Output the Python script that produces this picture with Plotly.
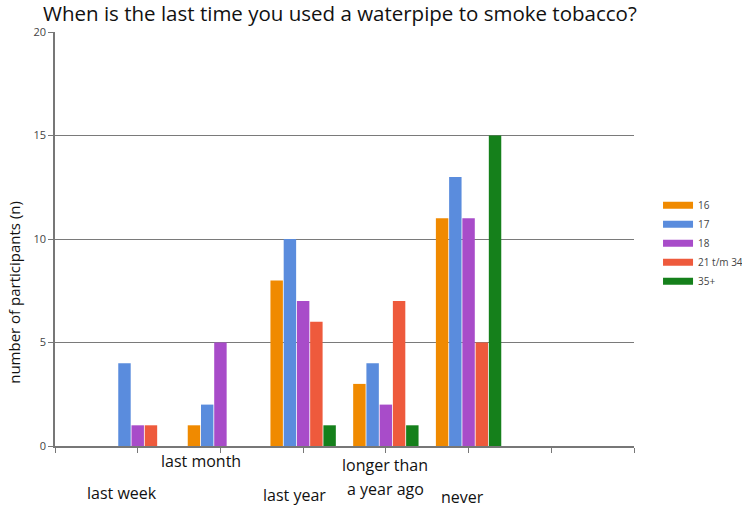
import plotly.graph_objects as go

categories = ["last week", "last month", "last year", "longer than<br>a year ago", "never"]
series_names = ["16", "17", "18", "21 t/m 34", "35+"]
values_16 = [0, 1, 8, 3, 11]
values_17 = [4, 2, 10, 4, 13]
values_18 = [1, 5, 7, 2, 11]
values_21_34 = [1, 0, 6, 7, 5]
values_35 = [0, 0, 1, 1, 15]
y_ticks = [0, 5, 10, 15, 20]

series = [values_16, values_17, values_18, values_21_34, values_35]
colors = ["#F08A00", "#5A8CDD", "#A84CC9", "#EE5A3C", "#15801B"]
xpos = list(range(1, len(categories) + 1))

fig = go.Figure()
for name, vals, col in zip(series_names, series, colors):
    fig.add_trace(go.Bar(x=xpos, y=vals, name=name, showlegend=False,
                         marker=dict(color=col, line=dict(width=0))))
# legend entries drawn as wide flat swatches
for name, col in zip(series_names, colors):
    fig.add_trace(go.Scatter(x=[None], y=[None], mode="lines", name=name,
                             line=dict(color=col, width=7)))

# category labels, staggered as in the reference
label_dx = [-0.19, -0.24, -0.10, -0.01, -0.07]
label_shift = [-47, -15, -49, -19, -51]
font_lbl = dict(family="Open Sans", size=16, color="#111")
for i, cat in enumerate(categories):
    lines = cat.split("<br>")
    for j, line in enumerate(lines):
        fig.add_annotation(x=xpos[i] + label_dx[i], y=0, xref="x", yref="paper",
                           text=line, showarrow=False, font=font_lbl,
                           yanchor="middle", yshift=label_shift[i] - 24 * j)

# y axis title
fig.add_annotation(x=-41 / 579, y=0.37, xref="paper", yref="paper",
                   text="number of participants (n)", textangle=-90, showarrow=False,
                   font=dict(family="Open Sans", size=15, color="#111"),
                   xanchor="center", yanchor="middle")

fig.update_layout(
    width=742, height=507,
    margin=dict(l=55, r=108, t=32, b=61, autoexpand=False),
    paper_bgcolor="white", plot_bgcolor="white",
    barmode="group", bargap=0.2, bargroupgap=0.06,
    title=dict(text="When is the last time you used a waterpipe to smoke tobacco?",
               x=0.058, xanchor="left", y=0.972, yanchor="middle",
               font=dict(family="Open Sans", size=20.5, color="#111")),
    showlegend=True,
    legend=dict(x=1.0415, y=0.49, xanchor="left", yanchor="middle",
                font=dict(family="Open Sans", size=10, color="#444"),
                bgcolor="rgba(0,0,0,0)", itemwidth=30, tracegroupgap=0),
    xaxis=dict(range=[0, 7], tickvals=list(range(0, 8)), ticktext=[""] * 8,
               showgrid=False, zeroline=False, showline=True, linecolor="#777", linewidth=1.5,
               ticks="outside", ticklen=5, tickcolor="#777", fixedrange=True, automargin=False),
    yaxis=dict(range=[0, 20], tickvals=y_ticks, showgrid=True, gridcolor="#7a7a7a", gridwidth=1.3,
               zeroline=False, showline=True, linecolor="#777", linewidth=1.5,
               ticks="outside", ticklen=5, tickcolor="#777", automargin=False,
               tickfont=dict(family="Open Sans", size=11, color="#444")),
)

fig.write_html("out.html", config={"displayModeBar": False},
               post_script="document.body.style.margin='0';")
